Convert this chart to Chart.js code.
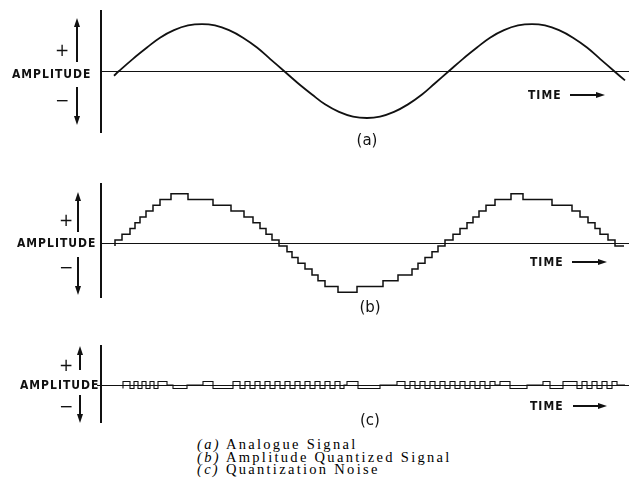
<!DOCTYPE html>
<html lang="en">
<head>
  <meta charset="UTF-8">
  <title>Quantization of an analogue signal</title>
  <script src="https://cdn.jsdelivr.net/npm/chart.js"></script>
  <style>
    body {
      margin: 0;
      background: #fff;
    }

    .page {
      position: relative;
      width: 629px;
      height: 485px;
      overflow: hidden;
      background: #fff;
      color: #111;
    }

    .page canvas {
      position: absolute;
      left: 0;
    }

    .lbl {
      position: absolute;
      height: 14px;
      line-height: 14px;
      white-space: nowrap;
    }

    .caps {
      font-family: 'DejaVu Sans Condensed', 'DejaVu Sans', sans-serif;
      font-weight: bold;
      font-size: 12px;
      letter-spacing: 1px;
    }

    .sign {
      font-family: 'DejaVu Sans', sans-serif;
      font-size: 17px;
      width: 14px;
      text-align: center;
    }

    .tag {
      font-family: 'DejaVu Sans', sans-serif;
      font-size: 15px;
      width: 40px;
      text-align: center;
    }

    .cap {
      font-family: 'Liberation Serif', serif;
      font-size: 14.5px;
      letter-spacing: 2.3px;
      color: #000;
      left: 197px;
    }

    .shaft { position: absolute; background: #111; }
    .up, .down, .right { position: absolute; width: 0; height: 0; }
    .up { border-left: 3px solid transparent; border-right: 3px solid transparent; border-bottom: 9px solid #111; }
    .down { border-left: 3px solid transparent; border-right: 3px solid transparent; border-top: 9px solid #111; }
    .right { border-top: 3px solid transparent; border-bottom: 3px solid transparent; border-left: 9px solid #111; }
  </style>
</head>
<body>
  <div class="page">
    <canvas id="chartA" width="629" height="123" style="top:10px"></canvas>
    <canvas id="chartB" width="629" height="115" style="top:183px"></canvas>
    <canvas id="chartC" width="629" height="78" style="top:345px"></canvas>

    <!-- panel (a) -->
    <div class="lbl caps" style="left:12px; top:67px">AMPLITUDE</div>
    <div class="lbl sign" style="left:55px; top:43px">+</div>
    <div class="lbl sign" style="left:55px; top:93px">−</div>
    <div class="up" style="left:74px; top:18px"></div>
    <div class="shaft" style="left:76px; top:26px; width:2px; height:36px"></div>
    <div class="shaft" style="left:76px; top:87px; width:2px; height:30px"></div>
    <div class="down" style="left:74px; top:116px"></div>
    <div class="lbl caps" style="left:528px; top:88px">TIME</div>
    <div class="shaft" style="left:570px; top:94px; width:27px; height:2px"></div>
    <div class="right" style="left:596px; top:92px"></div>
    <div class="lbl tag" style="left:347px; top:133px">(a)</div>

    <!-- panel (b) -->
    <div class="lbl caps" style="left:17px; top:236px">AMPLITUDE</div>
    <div class="lbl sign" style="left:59px; top:213px">+</div>
    <div class="lbl sign" style="left:59px; top:260px">−</div>
    <div class="up" style="left:75px; top:192px"></div>
    <div class="shaft" style="left:77px; top:200px; width:2px; height:32px"></div>
    <div class="shaft" style="left:77px; top:257px; width:2px; height:30px"></div>
    <div class="down" style="left:75px; top:286px"></div>
    <div class="lbl caps" style="left:530px; top:255px">TIME</div>
    <div class="shaft" style="left:572px; top:261px; width:27px; height:2px"></div>
    <div class="right" style="left:598px; top:259px"></div>
    <div class="lbl tag" style="left:350px; top:300px">(b)</div>

    <!-- panel (c) -->
    <div class="lbl caps" style="left:20px; top:378px">AMPLITUDE</div>
    <div class="lbl sign" style="left:59px; top:358px">+</div>
    <div class="lbl sign" style="left:59px; top:399px">−</div>
    <div class="up" style="left:77px; top:346px"></div>
    <div class="shaft" style="left:79px; top:354px; width:2px; height:16px"></div>
    <div class="shaft" style="left:79px; top:395px; width:2px; height:20px"></div>
    <div class="down" style="left:77px; top:414px"></div>
    <div class="lbl caps" style="left:530px; top:399px">TIME</div>
    <div class="shaft" style="left:573px; top:405px; width:26px; height:2px"></div>
    <div class="right" style="left:598px; top:403px"></div>
    <div class="lbl tag" style="left:350px; top:413px">(c)</div>

    <div class="lbl cap" style="top:437px"><i>(a)</i> Analogue Signal</div>
    <div class="lbl cap" style="top:450px"><i>(b)</i> Amplitude Quantized Signal</div>
    <div class="lbl cap" style="top:462px"><i>(c)</i> Quantization Noise</div>
  </div>

  <script>
    // time runs from the amplitude axis (0) to the right edge of each panel
    const timeEnd = 528;

    // (a) analogue signal, amplitude 1 = peak
    const analogT = [13, 18, 32, 46, 59, 73, 87, 101, 114, 128, 142, 156, 169, 183, 197, 211, 224, 238, 252, 266,
      279, 293, 307, 321, 334, 348, 362, 376, 389, 403, 417, 431, 444, 458, 472, 486, 499, 513, 524];
    const analogV = [-0.1, 0, 0.26, 0.5, 0.71, 0.87, 0.97, 1, 0.97, 0.87, 0.71, 0.5, 0.26, 0, -0.26, -0.5, -0.71, -0.87, -0.97, -1,
      -0.97, -0.87, -0.71, -0.5, -0.26, 0, 0.26, 0.5, 0.71, 0.87, 0.97, 1, 0.97, 0.87, 0.71, 0.5, 0.26, 0, -0.2];

    // (b) quantized signal, in quantization steps; each entry is where a new level starts
    const quantT = [14, 21, 29, 34, 39, 45, 52, 59, 70, 87, 112, 130, 143, 152, 159, 165, 171, 178, 186,
      191, 197, 204, 211, 217, 224, 237, 256, 282, 297, 311, 317, 324, 331, 337, 344, 352,
      359, 366, 372, 378, 385, 394, 410, 422, 451, 471, 479, 487, 494, 499, 507, 514, 521, 523];
    const quantV = [-0.5, 0.5, 1.5, 2.5, 3.5, 4.5, 5.5, 6.5, 7.5, 8.5, 7.5, 6.5, 5.5, 4.5, 3.5, 2.5, 1.5, 0.5, -0.5,
      -1.5, -2.5, -3.5, -4.5, -5.5, -6.5, -7.5, -8.5, -7.5, -6.5, -5.5, -4.5, -3.5, -2.5, -1.5, -0.5, 0.5,
      1.5, 2.5, 3.5, 4.5, 5.5, 6.5, 7.5, 8.5, 7.5, 6.5, 5.5, 4.5, 3.5, 2.5, 1.5, 0.5, -0.5, -0.5];

    // (c) quantization noise, in quantization steps
    const noiseT = [22, 29, 33, 37, 41, 45, 49, 53, 57, 66, 72, 86, 102, 112, 132,
      139, 144, 149, 154, 159, 164, 169, 174, 179, 184, 189, 194, 199, 204, 209, 214, 219, 224, 229, 234, 239, 243,
      246, 257, 279, 296, 304,
      309, 314, 319, 324, 329, 334, 339, 344, 349, 354, 359, 364, 369, 374, 379, 384, 389, 394,
      399, 409, 426, 442, 449, 462,
      476, 481, 486, 491, 496, 501, 506, 511, 516, 521, 524];
    const noiseV = [-0.5, 0.5, -0.5, 0.5, -0.5, 0.5, -0.5, 0.5, -0.5, 0.5, 0, -0.5, 0, 0.5, -0.5,
      0.5, -0.5, 0.5, -0.5, 0.5, -0.5, 0.5, -0.5, 0.5, -0.5, 0.5, -0.5, 0.5, -0.5, 0.5, -0.5, 0.5, -0.5, 0.5, -0.5, 0.5, -0.5,
      0, 0.5, -0.5, 0, 0.5,
      -0.5, 0.5, -0.5, 0.5, -0.5, 0.5, -0.5, 0.5, -0.5, 0.5, -0.5, 0.5, -0.5, 0.5, -0.5, 0.5, -0.5, 0.5,
      0, 0.5, -0.5, 0, 0.5, -0.5,
      0.5, -0.5, 0.5, -0.5, 0.5, -0.5, 0.5, -0.5, 0.5, 0, 0];

    const ink = '#111';

    // zero line and amplitude axis, placed with the chart's own scales
    const axisLines = {
      id: 'axisLines',
      beforeDatasetsDraw(chart) {
        const { ctx, scales: { x, y } } = chart;
        const y0 = Math.round(y.getPixelForValue(0)) + 0.5;
        const x0 = x.getPixelForValue(0);
        ctx.save();
        ctx.strokeStyle = ink;
        ctx.lineWidth = 1;
        ctx.beginPath();
        ctx.moveTo(x.left, y0);
        ctx.lineTo(x.right, y0);
        ctx.stroke();
        ctx.lineWidth = 2;
        ctx.beginPath();
        ctx.moveTo(x0, y.top);
        ctx.lineTo(x0, y.bottom);
        ctx.stroke();
        ctx.restore();
      }
    };

    function points(ts, vs) {
      return ts.map((t, i) => ({ x: t, y: vs[i] }));
    }

    function makePanel(id, data, xMin, yMin, yMax, padLeft) {
      return new Chart(document.getElementById(id), {
        type: 'line',
        data: { datasets: [data] },
        options: {
          responsive: false,
          animation: false,
          devicePixelRatio: 1,
          layout: { padding: { left: padLeft, right: 0, top: 0, bottom: 0 } },
          plugins: { legend: { display: false }, tooltip: { enabled: false } },
          scales: {
            x: { type: 'linear', min: xMin, max: timeEnd, display: false },
            y: { type: 'linear', min: yMin, max: yMax, display: false }
          }
        },
        plugins: [axisLines]
      });
    }

    makePanel('chartA', {
      data: points(analogT, analogV),
      borderColor: ink,
      borderWidth: 1.8,
      pointRadius: 0,
      tension: 0.4
    }, 0, -1.32, 1.3, 101);

    makePanel('chartB', {
      data: points(quantT, quantV),
      borderColor: ink,
      borderWidth: 1.5,
      pointRadius: 0,
      stepped: 'after'
    }, 0, -9.48, 10.34, 101);

    makePanel('chartC', {
      data: points(noiseT, noiseV),
      borderColor: ink,
      borderWidth: 1.1,
      pointRadius: 0,
      stepped: 'after'
    }, -4, -5.43, 5.71, 97);
  </script>
</body>
</html>
